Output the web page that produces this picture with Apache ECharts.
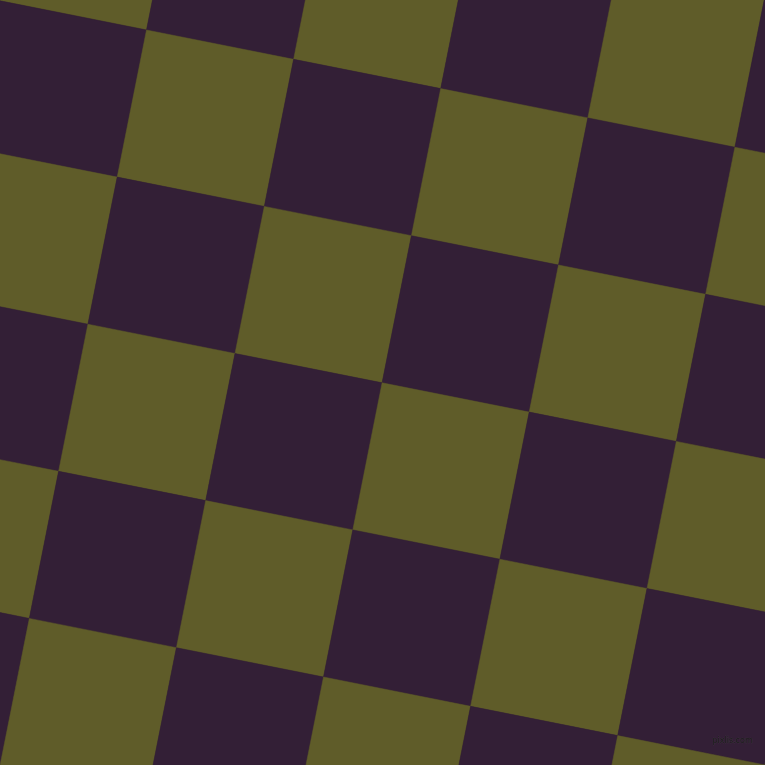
<!DOCTYPE html>
<html>
<head>
<meta charset="utf-8">
<script src="https://cdn.jsdelivr.net/npm/echarts@6/dist/echarts.min.js"></script>
<style>
html,body{margin:0;padding:0;background:#331F36;}
#c{width:765px;height:765px;}
</style>
</head>
<body>
<div id="c"></div>
<script>
// Lattice cell indices (columns along the tilted "u" direction, rows along "v")
const colIndex = [-2, -1, 0, 1, 2, 3, 4, 5];
const rowIndex = [-2, -1, 0, 1, 2, 3, 4, 5, 6];
// Two tile colours: [even parity, odd parity]
const tileColors = ['#5F5C29', '#331F36'];
const watermark = 'pixlis.com';

// Lattice geometry in axis units
const lattice = {
  origin: [146.5, 30],
  u: [147.1, 29.3],
  v: [-29.3, 147.1]
};

const cells = [];
colIndex.forEach(i => rowIndex.forEach(j => {
  cells.push([i, j, ((i + j) % 2 + 2) % 2]);
}));

function pt(a, b) {
  return [
    lattice.origin[0] + a * lattice.u[0] + b * lattice.v[0],
    lattice.origin[1] + a * lattice.u[1] + b * lattice.v[1]
  ];
}

const chart = echarts.init(document.getElementById('c'), null, {renderer: 'canvas'});
chart.setOption({
  backgroundColor: '#331F36',
  animation: false,
  grid: {left: 0, right: 0, top: 0, bottom: 0},
  xAxis: {type: 'value', min: 0, max: 765, show: false},
  yAxis: {type: 'value', min: 0, max: 765, inverse: true, show: false},
  graphic: [{
    type: 'text',
    right: 12,
    bottom: 20,
    z: 100,
    style: {text: watermark, fill: '#1c1c1c', font: '8px "DejaVu Sans"', stroke: 'rgba(90,90,90,0.35)', lineWidth: 0.6}
  }],
  series: [{
    type: 'custom',
    clip: true,
    data: cells,
    renderItem: function (params, api) {
      const i = api.value(0), j = api.value(1), k = api.value(2);
      const corners = [pt(i, j), pt(i + 1, j), pt(i + 1, j + 1), pt(i, j + 1)].map(p => api.coord(p));
      const col = tileColors[k];
      return {
        type: 'polygon',
        shape: {points: corners},
        style: {fill: col, stroke: col, lineWidth: 0.5}
      };
    }
  }]
});
</script>
</body>
</html>
